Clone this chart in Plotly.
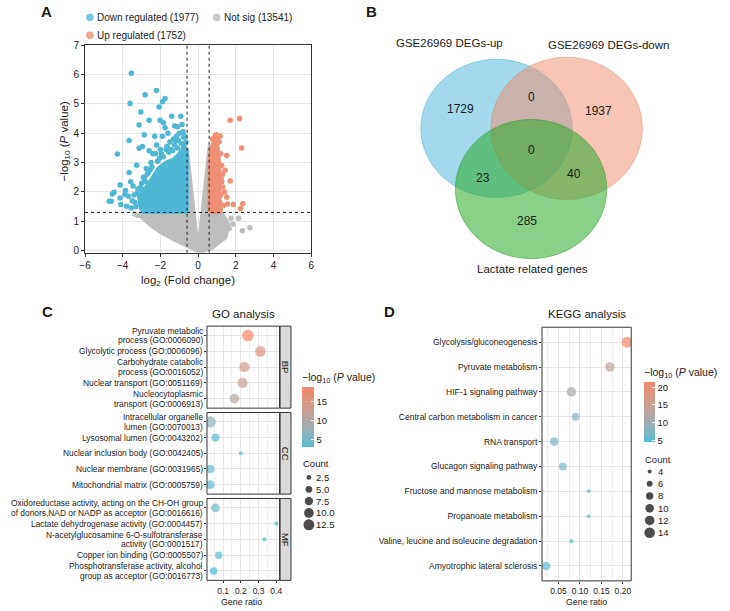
import numpy as np
import plotly.graph_objects as go

W, H = 730, 611
FONT = "Liberation Sans, Arial, sans-serif"
INK = "#1a1a1a"

# ---------------- A: volcano plot ----------------
fc_cut = float(np.log2(1.5))
p_cut = float(-np.log10(0.05))
volcano_legend = ["Down regulated (1977)", "Not sig (13541)", "Up regulated (1752)"]

# outlines of the regions where the points merge into a solid mass
notsig_cloud_x = [0.0, -0.4, -1.1, -1.8, -2.35, -2.85, -3.1, -0.6, -0.6, -0.52, -0.04,
                  0.04, 0.55, 0.62, 0.62, 1.25, 1.6, 1.45, 0.75, 0.2, 0.0]
notsig_cloud_y = [-0.02, 0.1, 0.33, 0.56, 0.78, 1.06, 1.28, 1.28, 3.5, 3.0, 0.15,
                  0.15, 3.0, 3.6, 1.28, 1.28, 0.9, 0.45, 0.1, -0.02, -0.02]
down_cloud_x = [-0.6, -0.6, -0.8, -1.0, -1.3, -1.7, -2.1, -2.4, -2.7, -3.0, -3.1, -2.9, -0.6]
down_cloud_y = [1.32, 3.4, 3.5, 3.3, 3.1, 3.0, 2.8, 2.5, 2.2, 2.0, 1.6, 1.32, 1.32]
up_cloud_x = [0.6, 0.6, 0.7, 0.85, 1.0, 1.08, 1.12, 1.15, 1.15, 0.6]
up_cloud_y = [1.32, 3.0, 3.5, 3.75, 3.65, 3.3, 2.8, 2.0, 1.32, 1.32]

# single points that stand apart from the clouds
down_x = [-3.54, -2.21, -2.81, -1.75, -1.89, -3.61, -2.07, -3.04, -1.40, -2.6, -2.02, -1.84,
          -3.13, -1.75, -1.24, -2.86, -3.66, -4.28, -3.13, -2.95, -3.26, -3.66, -3.58, -4.14,
          -4.46, -4.55, -4.72, -4.6, -4.14, -4.1, -3.88, -3.79, -0.92, -1.09, -0.78, -1.0,
          -1.15, -0.85, -1.3, -1.5, -1.9, -2.2, -2.4, -2.6, -2.5, -2.75, -2.9, -3.0, -3.2,
          -3.4, -3.5, -3.3, -3.1, -3.45, -3.85, -3.7, -2.3, -1.6, -2.0, -1.45, -0.7,
          -0.65, -0.75, -0.9, -1.1, -1.2, -1.35, -1.55, -1.7, -1.85, -2.05, -2.25, -2.45,
          -2.65, -2.85, -3.05, -3.25, -0.8, -1.05, -1.25, -1.65, -1.95, -2.15, -2.55, -2.8,
          -3.35, -3.55, -3.0, -2.7]
down_y = [6.04, 5.46, 5.31, 5.18, 5.07, 5.01, 4.89, 4.72, 4.58, 4.44, 4.44, 4.36,
          4.28, 4.19, 4.25, 3.95, 3.75, 3.29, 3.49, 3.55, 2.91, 2.66, 2.35, 2.24,
          1.99, 1.93, 1.68, 1.68, 1.79, 1.57, 1.91, 1.51, 4.58, 4.22, 3.86, 4.0,
          3.9, 4.3, 3.8, 3.7, 3.9, 3.6, 3.3, 3.4, 3.0, 2.8, 2.5, 2.3, 2.1,
          1.9, 1.7, 1.5, 1.8, 2.2, 2.05, 1.85, 3.9, 4.0, 3.45, 3.45, 3.9,
          3.7, 3.55, 3.65, 3.5, 3.75, 3.4, 3.35, 3.45, 3.2, 3.15, 3.3, 2.85,
          2.65, 2.45, 2.15, 1.95, 4.05, 3.75, 3.6, 3.55, 3.3, 3.05, 2.75, 2.35,
          1.65, 1.45, 1.45, 2.6]
up_x = [1.70, 2.2, 2.31, 1.52, 1.43, 1.70, 1.25, 1.31, 1.52, 1.87, 2.37, 2.26, 1.56,
        1.17, 1.12, 1.2, 1.25, 1.3, 1.2, 1.35, 1.15, 1.4, 0.75, 0.9, 1.05, 0.95, 1.22, 1.18]
up_y = [4.44, 4.5, 3.5, 3.24, 2.74, 2.37, 2.35, 2.17, 1.82, 1.57, 1.6, 1.44, 1.59,
        3.91, 3.7, 3.3, 2.9, 2.6, 1.9, 1.55, 1.65, 2.0, 3.8, 3.9, 3.85, 3.95, 2.45, 1.4]
notsig_x = [-3.2, -3.35, -2.95, -2.7, -3.0, 1.75, 2.15, 2.35, 2.75, 1.5, 1.85, 1.65, 1.3]
notsig_y = [1.2, 1.25, 1.15, 1.05, 1.22, 1.1, 1.1, 0.68, 0.78, 0.95, 0.9, 0.75, 0.6]

# ---------------- B: Venn diagram ----------------
venn_sets = ["GSE26969 DEGs-up", "GSE26969 DEGs-down", "Lactate related genes"]
venn_regions = ["up", "down", "lactate", "up&down", "up&down&lactate", "up&lactate", "down&lactate"]
venn_counts = [1729, 1937, 285, 0, 0, 23, 40]

# ---------------- C: GO enrichment ----------------
go_groups = ["BP", "CC", "MF"]
go_terms = [
    ["Pyruvate metabolic<br>process (GO:0006090)", "Glycolytic process (GO:0006096)",
     "Carbohydrate catabolic<br>process (GO:0016052)", "Nuclear transport (GO:0051169)",
     "Nucleocytoplasmic<br>transport (GO:0006913)"],
    ["Intracellular organelle<br>lumen (GO:0070013)", "Lysosomal lumen (GO:0043202)",
     "Nuclear inclusion body (GO:0042405)", "Nuclear membrane (GO:0031965)",
     "Mitochondrial matrix (GO:0005759)"],
    ["Oxidoreductase activity, acting on the CH-OH group<br>of donors,NAD or NADP as acceptor (GO:0016616)",
     "Lactate dehydrogenase activity (GO:0004457)",
     "N-acetylglucosamine 6-O-sulfotransferase<br>activity (GO:0001517)",
     "Copper ion binding (GO:0005507)",
     "Phosphotransferase activity, alcohol<br>group as acceptor (GO:0016773)"],
]
go_ratio = [[0.24, 0.31, 0.22, 0.21, 0.164],
            [0.028, 0.057, 0.2, 0.028, 0.028],
            [0.057, 0.4, 0.333, 0.076, 0.047]]
go_logp = [[19.1, 15.5, 13.5, 12.5, 10.5],
           [7.0, 4.0, 3.5, 4.0, 4.0],
           [4.5, 3.5, 3.5, 3.8, 3.1]]
go_count = [[14, 12, 11, 11, 10],
            [13, 7, 2, 8, 8],
            [8, 2, 2, 6, 6]]
go_count_breaks = [2.5, 5.0, 7.5, 10.0, 12.5]
go_logp_ticks = [5, 10, 15]

# ---------------- D: KEGG enrichment ----------------
kegg_terms = ["Glycolysis/gluconeogenesis", "Pyruvate metabolism", "HIF-1 signaling pathway",
              "Central carbon metabolism in cancer", "RNA transport", "Glucagon signaling pathway",
              "Fructose and mannose metabolism", "Propanoate metabolism",
              "Valine, leucine and isoleucine degradation", "Amyotrophic lateral sclerosis"]
kegg_ratio = [0.21, 0.17, 0.08, 0.09, 0.04, 0.06, 0.12, 0.12, 0.08, 0.021]
kegg_logp = [21.4, 13.0, 11.0, 8.0, 6.5, 6.5, 5.0, 5.0, 4.4, 5.5]
kegg_count = [15, 12, 12, 9, 10, 9, 4, 4, 4, 10]
kegg_count_breaks = [4, 6, 8, 10, 12, 14]
kegg_logp_ticks = [5, 10, 15, 20]


# ---- colour helpers: ggplot-like gradient interpolated in Lab ----
M = np.array([[0.4124, 0.3576, 0.1805], [0.2126, 0.7152, 0.0722], [0.0193, 0.1192, 0.9505]])
WHITE = np.array([0.95047, 1.0, 1.08883])


def to_lab(hexcol):
    c = np.array([int(hexcol[i:i + 2], 16) for i in (1, 3, 5)]) / 255.0
    c = np.where(c > 0.04045, ((c + 0.055) / 1.055) ** 2.4, c / 12.92)
    xyz = M @ c / WHITE
    f = np.where(xyz > 0.008856, np.cbrt(xyz), 7.787 * xyz + 16 / 116)
    return np.array([116 * f[1] - 16, 500 * (f[0] - f[1]), 200 * (f[1] - f[2])])


def from_lab(lab):
    fy = (lab[0] + 16) / 116
    f = np.array([fy + lab[1] / 500, fy, fy - lab[2] / 200])
    xyz = np.where(f ** 3 > 0.008856, f ** 3, (f - 16 / 116) / 7.787) * WHITE
    c = np.clip(np.linalg.inv(M) @ xyz, 0, 1)
    c = np.where(c > 0.0031308, 1.055 * c ** (1 / 2.4) - 0.055, 12.92 * c)
    r, g, b = np.clip(np.round(c * 255), 0, 255).astype(int)
    return f"rgb({r},{g},{b})"


def gradient(low, high, n=11):
    a, b = to_lab(low), to_lab(high)
    return [[t, from_lab(a + (b - a) * t)] for t in np.linspace(0, 1, n)]


def dot_size(counts, cmin, cmax, dmin, dmax):
    c = np.asarray(counts, dtype=float)
    return np.sqrt(dmin ** 2 + (c - cmin) / (cmax - cmin) * (dmax ** 2 - dmin ** 2))


def dom_x(a, b):
    return [a / W, b / W]


def dom_y(top, bottom):
    return [1 - bottom / H, 1 - top / H]


scale = gradient("#4dbbd5", "#f2876a")
BLUE, RED, GREY = "#4fb7d6", "#ef8f76", "#bebebe"
GO_D = (4.2, 11.5)
KEGG_D = (4.0, 11.0)

fig = go.Figure()

# ---- A traces ----
fig.add_trace(go.Scatter(x=notsig_cloud_x, y=notsig_cloud_y, mode="lines", fill="toself",
                         fillcolor=GREY, line=dict(color=GREY, width=4)))
fig.add_trace(go.Scatter(x=notsig_x, y=notsig_y, mode="markers",
                         marker=dict(size=5.5, color=GREY, line=dict(width=0))))
fig.add_trace(go.Scatter(x=down_cloud_x, y=down_cloud_y, mode="lines", fill="toself",
                         fillcolor=BLUE, line=dict(color=BLUE, width=4)))
fig.add_trace(go.Scatter(x=down_x, y=down_y, mode="markers",
                         marker=dict(size=5.5, color=BLUE, line=dict(width=0))))
fig.add_trace(go.Scatter(x=up_cloud_x, y=up_cloud_y, mode="lines", fill="toself",
                         fillcolor=RED, line=dict(color=RED, width=4)))
fig.add_trace(go.Scatter(x=up_x, y=up_y, mode="markers",
                         marker=dict(size=5.5, color=RED, line=dict(width=0))))

# ---- C traces ----
go_all_c = [c for grp in go_count for c in grp]
go_all_p = [p for grp in go_logp for p in grp]
for i in range(3):
    fig.add_trace(go.Scatter(
        x=go_ratio[i], y=go_terms[i], mode="markers",
        marker=dict(size=dot_size(go_count[i], min(go_all_c), max(go_all_c), *GO_D),
                    color=go_logp[i], coloraxis="coloraxis", line=dict(width=0)),
        xaxis=f"x{i + 2}", yaxis=f"y{i + 2}"))

# ---- D traces ----
fig.add_trace(go.Scatter(
    x=kegg_ratio, y=kegg_terms, mode="markers",
    marker=dict(size=dot_size(kegg_count, min(kegg_count), max(kegg_count), *KEGG_D),
                color=kegg_logp, coloraxis="coloraxis2", line=dict(width=0)),
    xaxis="x5", yaxis="y5"))

# ---- count legends (drawn on the pixel overlay axis) ----
fig.add_trace(go.Scatter(
    x=[306.7] * len(go_count_breaks), y=[478.7 + 12 * k for k in range(len(go_count_breaks))],
    mode="markers", marker=dict(color="black", line=dict(width=0),
                                size=dot_size(go_count_breaks, min(go_all_c), max(go_all_c), *GO_D)),
    xaxis="x6", yaxis="y6"))
fig.add_trace(go.Scatter(
    x=[651.7] * len(kegg_count_breaks), y=[472.7 + 12.4 * k for k in range(len(kegg_count_breaks))],
    mode="markers", marker=dict(color="black", line=dict(width=0),
                                size=dot_size(kegg_count_breaks, min(kegg_count), max(kegg_count), *KEGG_D)),
    xaxis="x6", yaxis="y6"))
# volcano legend keys
fig.add_trace(go.Scatter(x=[85, 213.3, 85], y=[12.7, 12.7, 30.7], mode="markers",
                         marker=dict(size=7.5, color=[BLUE, GREY, RED], opacity=0.8, line=dict(width=0)),
                         xaxis="x6", yaxis="y6"))

fig.update_traces(showlegend=False, hoverinfo="skip")

grid = "#e6e6e6"
axis_common = dict(showgrid=True, gridcolor=grid, gridwidth=1, zeroline=False,
                   ticks="outside", ticklen=2, tickcolor="#333", tickfont=dict(size=8.5, color=INK))

layout_axes = dict(
    xaxis=dict(domain=dom_x(80, 309), range=[-6, 6], dtick=2, tick0=0, showgrid=True,
               gridcolor=grid, zeroline=False, showline=True, mirror=True, linecolor="#333",
               linewidth=1, ticks="outside", ticklen=3, tickcolor="#333",
               tickfont=dict(size=10, color=INK), anchor="y"),
    yaxis=dict(domain=dom_y(40.7, 251), range=[-0.07, 7], dtick=1, tick0=0, showgrid=True,
               gridcolor=grid, zeroline=False, showline=True, mirror=True, linecolor="#333",
               linewidth=1, ticks="outside", ticklen=3, tickcolor="#333",
               tickfont=dict(size=10, color=INK), anchor="x"),
)

go_rows = [(325.4, 408.5), (412.9, 495.6), (500.0, 583.0)]
for i in range(3):
    xa = dict(axis_common, domain=dom_x(203.5, 277), range=[0.0094, 0.4186], dtick=0.1, tick0=0,
              minor=dict(dtick=0.05, tick0=0, showgrid=True, gridcolor="#efefef", gridwidth=0.6),
              anchor=f"y{i + 2}")
    if i < 2:
        xa.update(showticklabels=False, ticks="")
    layout_axes[f"xaxis{i + 2}"] = xa
    # tick text is written as annotations below so the two-line labels can sit tight
    layout_axes[f"yaxis{i + 2}"] = dict(axis_common, domain=dom_y(*go_rows[i]), type="category",
                                        categoryorder="array", categoryarray=go_terms[i][::-1],
                                        range=[-0.6, 4.6], anchor=f"x{i + 2}",
                                        showticklabels=False)

layout_axes["xaxis5"] = dict(axis_common, domain=dom_x(542.7, 633), range=[0.0115, 0.2195],
                             dtick=0.05, tick0=0, tickformat=".2f", anchor="y5",
                             minor=dict(dtick=0.025, tick0=0, showgrid=True, gridcolor="#efefef",
                                        gridwidth=0.6))
layout_axes["yaxis5"] = dict(axis_common, domain=dom_y(326.5, 583.5), type="category",
                             categoryorder="array", categoryarray=kegg_terms[::-1],
                             range=[-0.6, 9.6], anchor="x5")
layout_axes["xaxis6"] = dict(domain=[0, 1], range=[0, W], visible=False, anchor="y6")
layout_axes["yaxis6"] = dict(domain=[0, 1], range=[H, 0], visible=False, anchor="x6")

cbar = dict(thickness=12, len=60, lenmode="pixels", xanchor="left", yanchor="middle",
            xpad=0, ypad=0, outlinewidth=0, ticks="inside", ticklen=3, tickcolor="white",
            tickfont=dict(size=9.5, color=INK), title=dict(text=""))

fig.update_layout(
    width=W, height=H, autosize=False, margin=dict(l=0, r=0, t=0, b=0),
    paper_bgcolor="white", plot_bgcolor="rgba(0,0,0,0)",
    font=dict(family=FONT, color=INK), showlegend=False,
    coloraxis=dict(colorscale=scale, cmin=min(go_all_p), cmax=max(go_all_p),
                   colorbar=dict(cbar, x=300 / W, y=1 - 417 / H, tickvals=go_logp_ticks)),
    coloraxis2=dict(colorscale=scale, cmin=min(kegg_logp), cmax=max(kegg_logp),
                    colorbar=dict(cbar, x=646 / W, y=1 - 412.7 / H, thickness=11,
                                  tickvals=kegg_logp_ticks)),
    **layout_axes,
)

# ---- shapes ----
shapes = []
# threshold lines on the volcano plot
for xv in (-fc_cut, fc_cut):
    shapes.append(dict(type="line", xref="x", yref="y domain", x0=xv, x1=xv, y0=0, y1=1,
                       line=dict(color="#222", width=1, dash="dot")))
shapes.append(dict(type="line", xref="x domain", yref="y", x0=0, x1=1, y0=p_cut, y1=p_cut,
                   line=dict(color="#222", width=1, dash="dot")))
# Venn ellipses (pixel overlay)
venn_shapes = [((420, 55, 573.3, 195), "rgba(70,180,215,0.5)", "rgba(70,170,205,0.6)"),
               ((491, 53, 644.3, 197), "rgba(240,140,110,0.5)", "rgba(225,130,100,0.6)"),
               ((455, 116, 608.3, 257), "rgba(40,170,40,0.55)", "rgba(40,150,40,0.6)")]
for (x0, y0, x1, y1), fillc, linec in venn_shapes:
    shapes.append(dict(type="circle", xref="x6", yref="y6", x0=x0, y0=y0, x1=x1, y1=y1,
                       fillcolor=fillc, line=dict(color=linec, width=0.8)))
# panel borders and facet strips
for i in range(3):
    shapes.append(dict(type="rect", xref=f"x{i + 2} domain", yref=f"y{i + 2} domain",
                       x0=0, x1=1, y0=0, y1=1, line=dict(color="#333", width=1)))
    top, bottom = go_rows[i]
    shapes.append(dict(type="rect", xref="x6", yref="y6", x0=277.5, x1=288.5, y0=top, y1=bottom,
                       fillcolor="#d9d9d9", line=dict(color="#333", width=1)))
shapes.append(dict(type="rect", xref="x5 domain", yref="y5 domain", x0=0, x1=1, y0=0, y1=1,
                   line=dict(color="#333", width=1)))
fig.update_layout(shapes=shapes)


def label(x, y, text, size, xanchor="center", yanchor="middle", **kw):
    fig.add_annotation(x=x, y=y, xref="x6", yref="y6", text=text, showarrow=False,
                       font=dict(size=size, color=INK, family=FONT),
                       xanchor=xanchor, yanchor=yanchor, **kw)


# GO term labels, one annotation per line
for i in range(3):
    n = len(go_terms[i])
    for j, term in enumerate(go_terms[i]):
        lines = term.split("<br>")
        shifts = [0] if len(lines) == 1 else [4.9, -4.9]
        for line, sh in zip(lines, shifts):
            fig.add_annotation(x=0, y=n - 1 - j, xref=f"x{i + 2} domain", yref=f"y{i + 2}",
                               text=line, showarrow=False, xanchor="right", yanchor="middle",
                               xshift=-3, yshift=sh, borderpad=0,
                               font=dict(size=8.4, color=INK, family=FONT))

# panel letters
for letter, (lx, ly) in zip("ABCD", [(41, 7), (370, 7), (42, 311), (388, 311)]):
    label(lx, ly, f"<b>{letter}</b>", 15)

# volcano legend + axis titles
for name, (tx, ty) in zip(volcano_legend, [(90.5, 12.7), (219, 12.7), (90.5, 30.7)]):
    label(tx, ty, name, 10, xanchor="left")
label(184, 280, "log<sub>2</sub> (Fold change)", 11.5)
label(60, 138, "\u2212log<sub>10</sub> (<i>P</i> value)", 11.5, textangle=-90)

# Venn labels
for name, (tx, ty) in zip(venn_sets, [(449, 39), (610, 41), (533, 267)]):
    label(tx, ty, name, 11.5)
venn_pos = [(460, 105), (600, 107), (527, 219), (531.7, 93), (531.7, 147), (483, 175), (575, 171)]
for n, (tx, ty) in zip(venn_counts, venn_pos):
    label(tx, ty, str(n), 12)

# C / D titles, axis titles, strip text
label(240, 313, "GO analysis", 11.5)
label(588, 313, "KEGG analysis", 11.5)
label(238, 604.5, "Gene ratio", 8.8)
label(588, 604.5, "Gene ratio", 8.8)
for g, (top, bottom) in zip(go_groups, go_rows):
    label(283, (top + bottom) / 2, g, 9.5, textangle=90)

# legend titles and count labels
ctitle = "\u2212log<sub>10</sub> (<i>P</i> value)"
label(298, 378, ctitle, 10.5, xanchor="left")
label(644, 373.3, ctitle, 10.5, xanchor="left")
label(299, 465, "Count", 9.5, xanchor="left")
label(645, 460.7, "Count", 9.5, xanchor="left")
for k, b in enumerate(go_count_breaks):
    label(312, 478.7 + 12 * k, f"{b:.1f}", 9.5, xanchor="left")
for k, b in enumerate(kegg_count_breaks):
    label(658, 472.7 + 12.4 * k, f"{b:d}", 9.5, xanchor="left")

fig.write_html("out.html", config={"displayModeBar": False},
               post_script="document.body.style.margin='0';")
